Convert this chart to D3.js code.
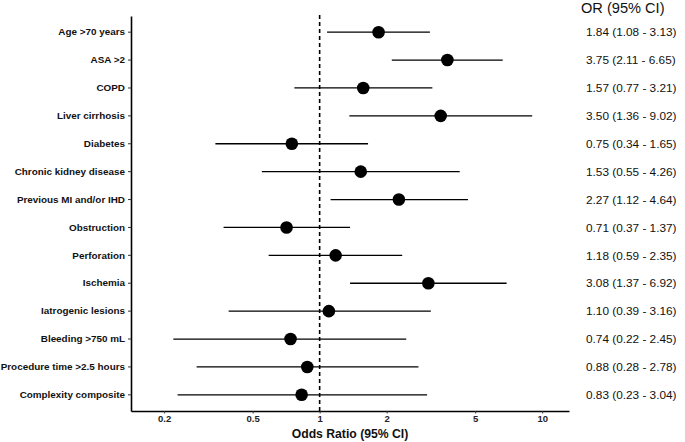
<!DOCTYPE html>
<html>
<head>
<meta charset="utf-8">
<script src="https://cdn.jsdelivr.net/npm/d3@7"></script>
<style>
  body { margin: 0; background: #fff; }
  svg { display: block; font-family: "Liberation Sans", Arial, sans-serif; }
</style>
</head>
<body>
<div id="chart"></div>
<script>
// forest plot data
const labels = [
    "Age >70 years", "ASA >2", "COPD", "Liver cirrhosis", "Diabetes",
    "Chronic kidney disease", "Previous MI and/or IHD", "Obstruction",
    "Perforation", "Ischemia", "Iatrogenic lesions", "Bleeding >750 mL",
    "Procedure time >2.5 hours", "Complexity composite"
];
const oddsRatio = [1.84, 3.75, 1.57, 3.50, 0.75, 1.53, 2.27, 0.71, 1.18, 3.08, 1.10, 0.74, 0.88, 0.83];
const ciLow     = [1.08, 2.11, 0.77, 1.36, 0.34, 0.55, 1.12, 0.37, 0.59, 1.37, 0.39, 0.22, 0.28, 0.23];
const ciHigh    = [3.13, 6.65, 3.21, 9.02, 1.65, 4.26, 4.64, 1.37, 2.35, 6.92, 3.16, 2.45, 2.78, 3.04];
const xTicks = [0.2, 0.5, 1, 2, 5, 10];

const rows = labels.map((name, i) => ({name, or: oddsRatio[i], lo: ciLow[i], hi: ciHigh[i]}));

const width = 685;
const height = 442;
const marginTop = 15;
const marginLeft = 131;
const panelRight = 569;
const panelBottom = 411;

const svg = d3.select("#chart").append("svg")
    .attr("width", width)
    .attr("height", height);

const x = d3.scaleLog()
    .domain([0.142, 13.2])
    .range([marginLeft, panelRight]);

const y = d3.scaleBand()
    .domain(labels)
    .range([marginTop + 1, panelBottom])
    .paddingOuter(0.08)
    .paddingInner(0);

const yc = d => y(d) + y.bandwidth() / 2;

// reference line at OR = 1
svg.append("line")
    .attr("x1", x(1)).attr("x2", x(1))
    .attr("y1", marginTop).attr("y2", panelBottom)
    .attr("stroke", "#000")
    .attr("stroke-width", 1.6)
    .attr("stroke-dasharray", "4,3");

// CI lines
svg.append("g")
    .selectAll("line")
    .data(rows)
    .join("line")
    .attr("x1", d => x(d.lo))
    .attr("x2", d => x(d.hi))
    .attr("y1", d => yc(d.name))
    .attr("y2", d => yc(d.name))
    .attr("stroke", "#000")
    .attr("stroke-width", 1.3);

// points
svg.append("g")
    .selectAll("circle")
    .data(rows)
    .join("circle")
    .attr("cx", d => x(d.or))
    .attr("cy", d => yc(d.name))
    .attr("r", 6.3)
    .attr("fill", "#000");

// x axis
const xAxis = svg.append("g")
    .attr("transform", `translate(0,${panelBottom})`)
    .call(d3.axisBottom(x).tickValues(xTicks).tickFormat(d3.format("")).tickSize(2.5).tickSizeOuter(0).tickPadding(2));
xAxis.select(".domain").attr("stroke-width", 1.6);
xAxis.selectAll(".tick line").attr("stroke", "#333").attr("stroke-width", 1);
xAxis.selectAll(".tick text")
    .attr("font-size", 9.5)
    .attr("font-weight", "bold")
    .attr("font-family", "Liberation Sans, Arial, sans-serif")
    .attr("fill", "#222");

// y axis
const yAxis = svg.append("g")
    .attr("transform", `translate(${marginLeft},0)`)
    .call(d3.axisLeft(y).tickSize(3).tickSizeOuter(0).tickPadding(3));
yAxis.select(".domain").attr("stroke-width", 1.6);
yAxis.selectAll(".tick line").attr("stroke", "#333").attr("stroke-width", 1);
yAxis.selectAll(".tick text")
    .attr("font-size", 9.9)
    .attr("font-weight", "bold")
    .attr("font-family", "Liberation Sans, Arial, sans-serif")
    .attr("fill", "#111");

// x axis title
svg.append("text")
    .attr("x", (marginLeft + panelRight) / 2)
    .attr("y", 438)
    .attr("text-anchor", "middle")
    .attr("font-size", 12.2)
    .attr("font-weight", "bold")
    .attr("fill", "#111")
    .text("Odds Ratio (95% CI)");

// right-hand OR column
svg.append("text")
    .attr("x", 581)
    .attr("y", 13)
    .attr("font-size", 14.6)
    .attr("fill", "#111")
    .text("OR (95% CI)");

const fmt = d3.format(".2f");
svg.append("g")
    .selectAll("text")
    .data(rows)
    .join("text")
    .attr("x", 586)
    .attr("y", d => yc(d.name))
    .attr("dy", "0.36em")
    .attr("font-size", 11.8)
    .attr("fill", "#111")
    .text(d => `${fmt(d.or)} (${fmt(d.lo)} - ${fmt(d.hi)})`);
</script>
</body>
</html>
